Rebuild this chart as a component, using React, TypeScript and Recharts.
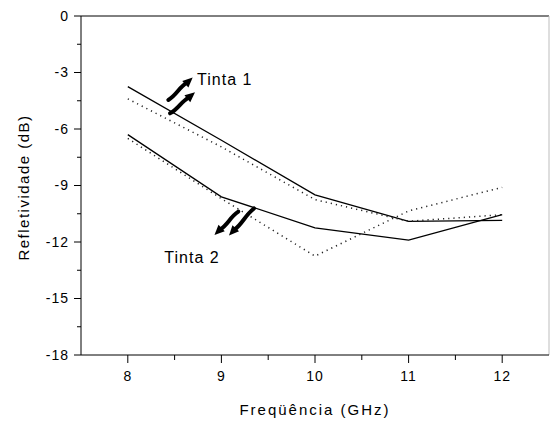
import React from 'react';
import { LineChart, Line, XAxis, YAxis, ReferenceLine, ReferenceDot } from 'recharts';

// ---- data ----
const freq = [8, 9, 10, 11, 12];
const tinta1Solid = [-3.75, -6.6, -9.5, -10.9, -10.85];
const tinta1Dotted = [-4.4, -6.95, -9.75, -10.9, -10.55];
const tinta2Solid = [-6.3, -9.6, -11.25, -11.9, -10.55];
const tinta2Dotted = [-6.5, -9.7, -12.75, -10.35, -9.1];

const xMajorTicks = [8, 9, 10, 11, 12];
const xMinorTicks = [8.5, 9.5, 10.5, 11.5];
const yMajorTicks = [0, -3, -6, -9, -12, -15, -18];
const yMinorTicks = [-1.5, -4.5, -7.5, -10.5, -13.5, -16.5];

const xLabel = 'Freqüência (GHz)';
const yLabel = 'Refletividade (dB)';

// annotation arrows (data coordinates: [freq, dB])
const arrowStarts = [
  [8.433, -4.46],
  [8.451, -5.17],
  [9.181, -10.39],
  [9.348, -10.22],
];
const arrowTips = [
  [8.693, -3.26],
  [8.718, -4.05],
  [8.926, -11.63],
  [9.081, -11.66],
];
const noteX = [8.74, 8.39];
const noteY = [-3.35, -12.8];
const noteText = ['Tinta 1', 'Tinta 2'];

const data = freq.map((f, i) => ({
  f,
  t1s: tinta1Solid[i],
  t1d: tinta1Dotted[i],
  t2s: tinta2Solid[i],
  t2d: tinta2Dotted[i],
}));

const FONT = '"Liberation Sans", Arial, sans-serif';

const XTick = (props: any) => {
  const { x, y, payload } = props;
  const major = xMajorTicks.includes(payload.value);
  return (
    <g>
      <line x1={x} x2={x} y1={y} y2={y + (major ? 8 : 5)} stroke="#000" strokeWidth={1} />
      {major && (
        <text x={x} y={y + 26} textAnchor="middle" fontFamily={FONT} fontSize={14} letterSpacing={1} fill="#000">
          {payload.value}
        </text>
      )}
    </g>
  );
};

const YTick = (props: any) => {
  const { x, y, payload } = props;
  const major = yMajorTicks.includes(payload.value);
  return (
    <g>
      <line x1={x - (major ? 7 : 4)} x2={x} y1={y} y2={y} stroke="#000" strokeWidth={1} />
      {major && (
        <text x={x - 12} y={y} dy="0.355em" textAnchor="end" fontFamily={FONT} fontSize={14} letterSpacing={1} fill="#000">
          {payload.value}
        </text>
      )}
    </g>
  );
};

const Arrow = (p: any) => {
  const { x1, y1, x2, y2 } = p;
  const dx = x2 - x1;
  const dy = y2 - y1;
  const len = Math.sqrt(dx * dx + dy * dy);
  const ux = dx / len;
  const uy = dy / len;
  const headL = 10;
  const headW = 4.5;
  const bx = x2 - ux * headL;
  const by = y2 - uy * headL;
  const nx = -uy;
  const ny = ux;
  const c1x = x1 + dx * 0.3 + nx * 2;
  const c1y = y1 + dy * 0.3 + ny * 2;
  const c2x = x1 + (bx - x1) * 0.7 - nx * 2;
  const c2y = y1 + (by - y1) * 0.7 - ny * 2;
  return (
    <g>
      <path d={`M${x1},${y1} C${c1x},${c1y} ${c2x},${c2y} ${bx + ux * 2},${by + uy * 2}`} stroke="#000" strokeWidth={4} fill="none" strokeLinecap="round" />
      <polygon
        points={`${x2},${y2} ${bx + nx * headW},${by + ny * headW} ${bx - nx * headW},${by - ny * headW}`}
        fill="#000"
      />
    </g>
  );
};

export default function App() {
  return (
    <div style={{ position: 'absolute', left: 0, top: 0, background: '#fff' }}>
      <LineChart width={550} height={423} data={data} margin={{ top: 16, right: 1, bottom: 0, left: 0 }}>
        <XAxis
          dataKey="f"
          type="number"
          domain={[7.5, 12.5]}
          ticks={[...xMajorTicks, ...xMinorTicks]}
          interval={0}
          tickLine={false}
          tickSize={0}
          tickMargin={0}
          tick={<XTick />}
          height={68}
          axisLine={{ stroke: '#000', strokeWidth: 1 }}
          label={{
            content: (lp: any) => {
              const vb = lp.viewBox;
              return (
                <text
                  x={vb.x + vb.width / 2}
                  y={vb.y + 60}
                  textAnchor="middle"
                  fontFamily={FONT}
                  fontSize={15}
                  letterSpacing={2}
                  fill="#000"
                >
                  {xLabel}
                </text>
              );
            },
          }}
        />
        <YAxis
          type="number"
          domain={[-18, 0]}
          ticks={[...yMajorTicks, ...yMinorTicks]}
          interval={0}
          tickLine={false}
          tickSize={0}
          tickMargin={0}
          tick={<YTick />}
          width={81}
          axisLine={{ stroke: '#000', strokeWidth: 1 }}
          label={{
            content: (lp: any) => {
              const vb = lp.viewBox;
              const cx = vb.x + 29;
              const cy = vb.y + vb.height / 2 + 2;
              return (
                <text
                  x={cx}
                  y={cy}
                  transform={`rotate(-90, ${cx}, ${cy})`}
                  textAnchor="middle"
                  fontFamily={FONT}
                  fontSize={15}
                  letterSpacing={1.5}
                  fill="#000"
                >
                  {yLabel}
                </text>
              );
            },
          }}
        />
        <ReferenceLine y={0} stroke="#000" strokeWidth={1} />
        <ReferenceLine x={12.5} stroke="#bdbdbd" strokeWidth={1} />

        <Line type="linear" dataKey="t1s" stroke="#000" strokeWidth={1.3} dot={false} isAnimationActive={false} />
        <Line type="linear" dataKey="t2s" stroke="#000" strokeWidth={1.3} dot={false} isAnimationActive={false} />
        <Line type="linear" dataKey="t1d" stroke="#222" strokeWidth={1.5} strokeDasharray="1.2 4" dot={false} isAnimationActive={false} />
        <Line type="linear" dataKey="t2d" stroke="#222" strokeWidth={1.5} strokeDasharray="1.2 4" dot={false} isAnimationActive={false} />

        {arrowStarts.map((s, i) => (
          <ReferenceLine
            key={'a' + i}
            segment={[
              { x: s[0], y: s[1] },
              { x: arrowTips[i][0], y: arrowTips[i][1] },
            ]}
            shape={(p: any) => <Arrow {...p} />}
          />
        ))}
        {noteText.map((t, i) => (
          <ReferenceDot
            key={'n' + i}
            x={noteX[i]}
            y={noteY[i]}
            r={0}
            shape={(p: any) => (
              <text x={p.cx} y={p.cy} dy="0.355em" fontFamily={FONT} fontSize={16} letterSpacing={1} fill="#000">
                {t}
              </text>
            )}
          />
        ))}
      </LineChart>
    </div>
  );
}
